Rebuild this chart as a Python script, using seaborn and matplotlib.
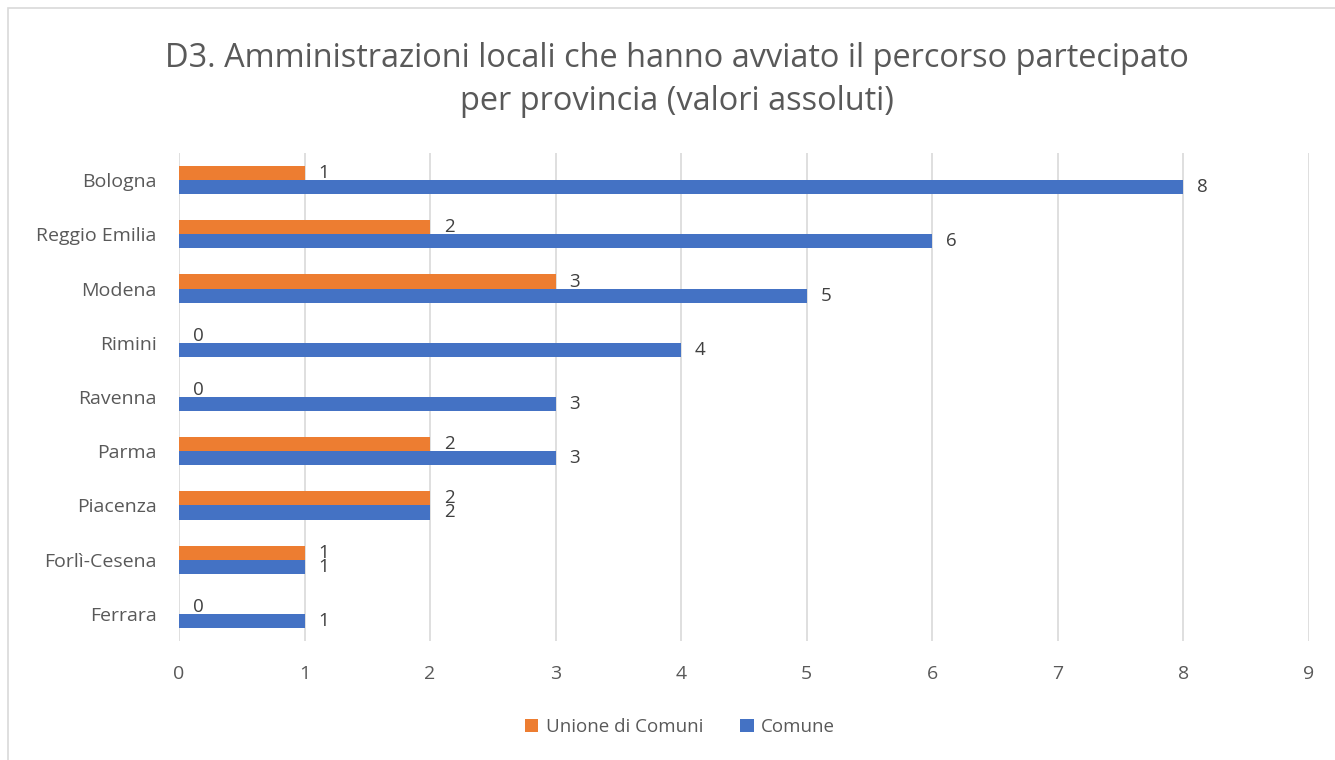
import matplotlib
matplotlib.use('Agg')
import matplotlib.pyplot as plt
import seaborn as sns
import pandas as pd
from matplotlib.patches import Rectangle

province = ['Bologna', 'Reggio Emilia', 'Modena', 'Rimini', 'Ravenna',
            'Parma', 'Piacenza', 'Forlì-Cesena', 'Ferrara']
unione = [1, 2, 3, 0, 0, 2, 2, 1, 0]
comune = [8, 6, 5, 4, 3, 3, 2, 1, 1]
series = ['Unione di Comuni', 'Comune']
colors = ['#ED7D31', '#4472C4']

df = pd.DataFrame({
    'provincia': province * 2,
    'tipo': [series[0]] * len(province) + [series[1]] * len(province),
    'valore': unione + comune,
})

sns.set_style('white')
plt.rcParams['font.family'] = ['Open Sans', 'DejaVu Sans']

fig = plt.figure(figsize=(13.35, 7.6), dpi=100)
ax = fig.add_axes([179 / 1335, 1 - 641 / 760, 1130 / 1335, 488 / 760])

sns.barplot(data=df, x='valore', y='provincia', hue='tipo', hue_order=series,
            palette=colors, orient='h', width=0.52, gap=0, ax=ax,
            errorbar=None, saturation=1, linewidth=0)

for cont in ax.containers:
    ax.bar_label(cont, padding=10, fontsize=13.5, color='#404040')

ax.set_xlim(0, 9)
ax.set_xticks(range(10))
ax.set_xlabel('')
ax.set_ylabel('')
ax.grid(axis='x', color='#d9d9d9', linewidth=1.2)
ax.set_axisbelow(True)
for s in ax.spines.values():
    s.set_visible(False)
ax.tick_params(axis='both', labelsize=14, colors='#595959', length=0)
ax.tick_params(axis='x', pad=17)
ax.tick_params(axis='y', pad=16)

ax.legend(loc='center', bbox_to_anchor=(680 / 1335, 1 - 727 / 760),
          bbox_transform=fig.transFigure, ncol=2, frameon=False,
          fontsize=13.5, labelcolor='#595959', handlelength=0.7, handleheight=0.7,
          columnspacing=2.0, handletextpad=0.4)

fig.text(0.507, 1 - 80 / 760,
         'D3. Amministrazioni locali che hanno avviato il percorso partecipato\n'
         'per provincia (valori assoluti)',
         ha='center', va='center', fontsize=23.4, color='#595959', linespacing=1.42)

fig.patches.append(Rectangle((8 / 1335, -0.1), 1.2, 1 - 8 / 760 + 0.1,
                             transform=fig.transFigure, fill=False,
                             edgecolor='#d9d9d9', linewidth=1.2))

fig.savefig('out.png', dpi=100)
